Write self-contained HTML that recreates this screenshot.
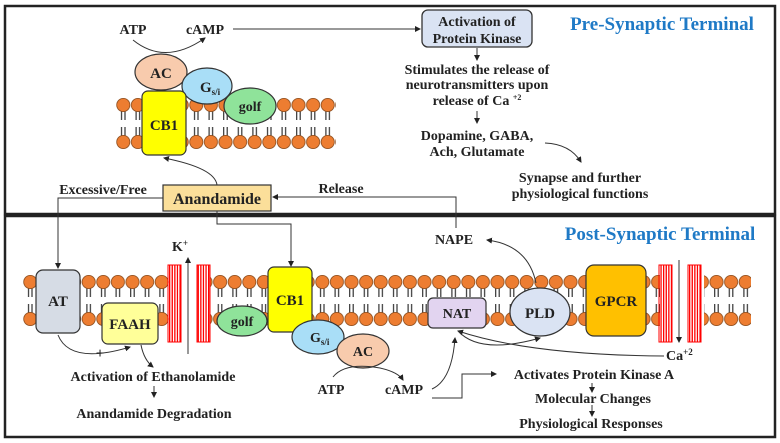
<!DOCTYPE html>
<html><head><meta charset="utf-8"><style>
html,body{margin:0;padding:0;background:#fff;}
svg{display:block;}
text{font-family:"Liberation Serif",serif;font-weight:bold;fill:#222;}
</style></head><body>
<svg width="780" height="443" viewBox="0 0 780 443" xmlns="http://www.w3.org/2000/svg">
<defs>
<marker id="a" markerWidth="6" markerHeight="6" refX="5" refY="3" orient="auto" markerUnits="userSpaceOnUse"><path d="M0,0 L6,3 L0,6 z" fill="#222"/></marker>
<pattern id="m1" patternUnits="userSpaceOnUse" x="116" y="98" width="14.6" height="51">
<line x1="5.5" y1="13" x2="5.5" y2="22" stroke="#333" stroke-width="1.2"/><line x1="9" y1="13" x2="9" y2="22" stroke="#333" stroke-width="1.2"/>
<line x1="5.5" y1="29" x2="5.5" y2="38" stroke="#333" stroke-width="1.2"/><line x1="9" y1="29" x2="9" y2="38" stroke="#333" stroke-width="1.2"/>
<circle cx="7.3" cy="7" r="6.6" fill="#ed7d31" stroke="#8a4a1a" stroke-width="0.8"/>
<circle cx="7.3" cy="44" r="6.6" fill="#ed7d31" stroke="#8a4a1a" stroke-width="0.8"/>
</pattern>
<pattern id="m2" patternUnits="userSpaceOnUse" x="23" y="275" width="14.6" height="51">
<line x1="5.5" y1="13" x2="5.5" y2="22" stroke="#333" stroke-width="1.2"/><line x1="9" y1="13" x2="9" y2="22" stroke="#333" stroke-width="1.2"/>
<line x1="5.5" y1="29" x2="5.5" y2="38" stroke="#333" stroke-width="1.2"/><line x1="9" y1="29" x2="9" y2="38" stroke="#333" stroke-width="1.2"/>
<circle cx="7.3" cy="7" r="6.6" fill="#ed7d31" stroke="#8a4a1a" stroke-width="0.8"/>
<circle cx="7.3" cy="44" r="6.6" fill="#ed7d31" stroke="#8a4a1a" stroke-width="0.8"/>
</pattern>
<pattern id="ch" patternUnits="userSpaceOnUse" width="2.6" height="10"><rect width="1.3" height="10" fill="#f00"/></pattern>
</defs>
<rect x="5" y="6" width="770" height="208" fill="none" stroke="#222" stroke-width="2.5"/>
<rect x="5" y="216" width="770" height="221" fill="none" stroke="#222" stroke-width="2.5"/>

<rect x="116" y="98" width="220" height="51" fill="url(#m1)"/>
<rect x="23" y="275" width="146" height="51" fill="url(#m2)"/>
<rect x="210" y="275" width="450" height="51" fill="url(#m2)"/>
<rect x="704" y="275" width="47" height="51" fill="url(#m2)"/>

<ellipse cx="161" cy="72" rx="26" ry="18" fill="#f8cbad" stroke="#333" stroke-width="1.2"/>
<text x="161" y="78" font-size="15" text-anchor="middle">AC</text>
<ellipse cx="207" cy="86" rx="25" ry="18" fill="#a9def7" stroke="#333" stroke-width="1.2"/>
<text x="200" y="92" font-size="15">G<tspan font-size="9" dy="3">s/i</tspan></text>
<ellipse cx="250" cy="106" rx="26" ry="18" fill="#8fe39a" stroke="#333" stroke-width="1.2"/>
<text x="250" y="111" font-size="14" text-anchor="middle">golf</text>
<rect x="142" y="91" width="44" height="64" rx="6" fill="#ffff00" stroke="#333" stroke-width="1.2"/>
<text x="164" y="130" font-size="15" text-anchor="middle">CB1</text>

<text x="133" y="34" font-size="14" text-anchor="middle">ATP</text>
<text x="205" y="34" font-size="14" text-anchor="middle">cAMP</text>
<path d="M133,40 Q165,66 205,38" fill="none" stroke="#333" stroke-width="1" marker-end="url(#a)"/>
<line x1="233" y1="29" x2="420" y2="29" stroke="#333" stroke-width="1" marker-end="url(#a)"/>

<rect x="422" y="10" width="110" height="37" rx="6" fill="#dae3f3" stroke="#333" stroke-width="1.3"/>
<text x="477" y="26" font-size="14" text-anchor="middle">Activation of</text>
<text x="477" y="43" font-size="14" text-anchor="middle">Protein Kinase</text>
<text x="662" y="30" font-size="19" text-anchor="middle" style="fill:#1f7ac6">Pre-Synaptic Terminal</text>
<line x1="477" y1="48" x2="477" y2="60" stroke="#333" stroke-width="1" marker-end="url(#a)"/>
<text x="477" y="74" font-size="14" text-anchor="middle">Stimulates the release of</text>
<text x="477" y="89" font-size="14" text-anchor="middle">neurotransmitters upon</text>
<text x="477" y="105" font-size="14" text-anchor="middle">release of Ca <tspan font-size="8" dy="-5">+2</tspan></text>
<line x1="477" y1="111" x2="477" y2="123" stroke="#333" stroke-width="1" marker-end="url(#a)"/>
<text x="477" y="140" font-size="14" text-anchor="middle">Dopamine, GABA,</text>
<text x="477" y="156" font-size="14" text-anchor="middle">Ach, Glutamate</text>
<path d="M545,143 Q570,144 581,162" fill="none" stroke="#333" stroke-width="1" marker-end="url(#a)"/>
<text x="580" y="182" font-size="14" text-anchor="middle">Synapse and further</text>
<text x="580" y="198" font-size="14" text-anchor="middle">physiological functions</text>

<rect x="163" y="185" width="108" height="26" fill="#fbdf9a" stroke="#333" stroke-width="1.2"/>
<text x="217" y="204" font-size="16" text-anchor="middle">Anandamide</text>
<text x="103" y="194" font-size="14" text-anchor="middle">Excessive/Free</text>
<text x="341" y="193" font-size="14" text-anchor="middle">Release</text>
<path d="M217,185 Q215,168 164,158" fill="none" stroke="#333" stroke-width="1" marker-end="url(#a)"/>
<polyline points="163,198 58,198 58,268" fill="none" stroke="#333" stroke-width="1" marker-end="url(#a)"/>
<polyline points="217,211 217,224 291,224 291,266" fill="none" stroke="#333" stroke-width="1" marker-end="url(#a)"/>
<polyline points="456,228 456,197 273,197" fill="none" stroke="#333" stroke-width="1" marker-end="url(#a)"/>

<text x="660" y="240" font-size="19" text-anchor="middle" style="fill:#1f7ac6">Post-Synaptic Terminal</text>
<rect x="36" y="270" width="44" height="63" rx="7" fill="#d6dce5" stroke="#333" stroke-width="1.2"/>
<text x="58" y="306" font-size="15" text-anchor="middle">AT</text>
<rect x="102" y="303" width="56" height="41" rx="6" fill="#ffff99" stroke="#333" stroke-width="1.2"/>
<text x="130" y="329" font-size="15" text-anchor="middle">FAAH</text>

<rect x="168" y="265" width="13" height="77" fill="url(#ch)" stroke="#f00" stroke-width="1"/>
<rect x="197" y="265" width="13" height="77" fill="url(#ch)" stroke="#f00" stroke-width="1"/>
<text x="172" y="251" font-size="14">K<tspan font-size="9" dy="-5">+</tspan></text>
<line x1="188" y1="354" x2="188" y2="258" stroke="#333" stroke-width="1" marker-end="url(#a)"/>

<path d="M58,335 Q70,365 130,347" fill="none" stroke="#333" stroke-width="1" marker-end="url(#a)"/>
<text x="100" y="358" font-size="15" text-anchor="middle">+</text>
<path d="M141,345 Q144,360 153,367" fill="none" stroke="#333" stroke-width="1" marker-end="url(#a)"/>
<text x="153" y="381" font-size="14" text-anchor="middle">Activation of Ethanolamide</text>
<line x1="154" y1="386" x2="154" y2="397" stroke="#333" stroke-width="1" marker-end="url(#a)"/>
<text x="154" y="418" font-size="14" text-anchor="middle">Anandamide Degradation</text>

<ellipse cx="242" cy="321" rx="25" ry="15" fill="#8fe39a" stroke="#333" stroke-width="1.2"/>
<text x="242" y="326" font-size="14" text-anchor="middle">golf</text>
<rect x="268" y="267" width="44" height="65" rx="6" fill="#ffff00" stroke="#333" stroke-width="1.2"/>
<text x="290" y="305" font-size="15" text-anchor="middle">CB1</text>
<ellipse cx="318" cy="337" rx="26" ry="17" fill="#a9def7" stroke="#333" stroke-width="1.2"/>
<text x="310" y="342" font-size="14">G<tspan font-size="9" dy="3">s/i</tspan></text>
<ellipse cx="363" cy="351" rx="26" ry="17" fill="#f8cbad" stroke="#333" stroke-width="1.2"/>
<text x="363" y="356" font-size="14" text-anchor="middle">AC</text>

<text x="331" y="394" font-size="14" text-anchor="middle">ATP</text>
<text x="404" y="394" font-size="14" text-anchor="middle">cAMP</text>
<path d="M333,377 Q345,362 380,368 Q398,372 403,380" fill="none" stroke="#333" stroke-width="1" marker-end="url(#a)"/>

<rect x="428" y="298" width="58" height="30" rx="5" fill="#e2d4f0" stroke="#333" stroke-width="1.2"/>
<text x="457" y="318" font-size="14" text-anchor="middle">NAT</text>
<ellipse cx="540" cy="312" rx="30" ry="24" fill="#dae3f3" stroke="#333" stroke-width="1.2"/>
<text x="540" y="318" font-size="15" text-anchor="middle">PLD</text>
<rect x="586" y="265" width="60" height="71" rx="8" fill="#ffc000" stroke="#333" stroke-width="1.2"/>
<text x="616" y="306" font-size="15" text-anchor="middle">GPCR</text>

<rect x="659" y="265" width="13" height="77" fill="url(#ch)" stroke="#f00" stroke-width="1"/>
<rect x="688" y="265" width="13" height="77" fill="url(#ch)" stroke="#f00" stroke-width="1"/>
<line x1="679" y1="260" x2="679" y2="342" stroke="#333" stroke-width="1" marker-end="url(#a)"/>
<text x="666" y="360" font-size="14">Ca<tspan font-size="9" dy="-5">+2</tspan></text>

<text x="454" y="244" font-size="14" text-anchor="middle">NAPE</text>
<path d="M536,283 Q528,245 487,240" fill="none" stroke="#333" stroke-width="1" marker-end="url(#a)"/>
<path d="M664,356 Q530,355 458,331" fill="none" stroke="#333" stroke-width="1" marker-end="url(#a)"/>
<path d="M458,331 Q480,355 540,338" fill="none" stroke="#333" stroke-width="1" marker-end="url(#a)"/>
<path d="M432,389 Q452,380 455,338" fill="none" stroke="#333" stroke-width="1" marker-end="url(#a)"/>
<polyline points="432,398 462,398 462,374 496,374" fill="none" stroke="#333" stroke-width="1" marker-end="url(#a)"/>
<text x="594" y="379" font-size="14" text-anchor="middle">Activates Protein Kinase A</text>
<line x1="592" y1="383" x2="592" y2="392" stroke="#333" stroke-width="1" marker-end="url(#a)"/>
<text x="593" y="403" font-size="14" text-anchor="middle">Molecular Changes</text>
<line x1="592" y1="405" x2="592" y2="416" stroke="#333" stroke-width="1" marker-end="url(#a)"/>
<text x="591" y="428" font-size="14" text-anchor="middle">Physiological Responses</text>
</svg>
</body></html>
